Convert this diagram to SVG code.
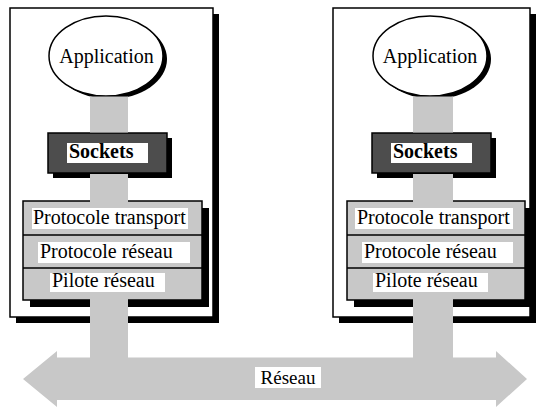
<svg xmlns="http://www.w3.org/2000/svg" width="538" height="409" viewBox="0 0 538 409">
<style>
.shadow{fill:#000}
.frame{fill:#fff;stroke:#000;stroke-width:1.5}
.app{fill:#fff;stroke:#000;stroke-width:1.5}
.sock{fill:#4d4d4d;stroke:#000;stroke-width:1.5}
.stack{fill:#c8c8c8;stroke:#000;stroke-width:1.5}
.div{stroke:#000;stroke-width:1.5}
.bar{fill:#c8c8c8}
.lbl{fill:#fff}
.t{font-family:"Liberation Serif","Times New Roman",serif;font-size:20px;fill:#000}
.b{font-weight:bold}
</style>
<g id="host-left">
  <rect class="shadow" x="16" y="14" width="203" height="309"/>
  <rect class="frame" x="10" y="8" width="203" height="309"/>
</g>
<g id="host-right">
  <rect class="shadow" x="339" y="14" width="197" height="309"/>
  <rect class="frame" x="333" y="8" width="197" height="309"/>
</g>
<g id="app-left">
  <ellipse class="shadow" cx="110" cy="59" rx="57" ry="40"/>
  <ellipse class="app" cx="106" cy="56" rx="57" ry="40"/>
  <text class="t" x="106.5" y="63" text-anchor="middle">Application</text>
</g>
<g id="app-right">
  <ellipse class="shadow" cx="434" cy="59" rx="57" ry="40"/>
  <ellipse class="app" cx="430" cy="56" rx="57" ry="40"/>
  <text class="t" x="430" y="63" text-anchor="middle">Application</text>
</g>
<g id="sockets-left">
  <rect class="shadow" x="53" y="138" width="119" height="40"/>
  <rect class="sock" x="48" y="133" width="119" height="40"/>
  <rect class="lbl" x="67" y="143" width="81" height="20"/>
  <text class="t b" x="69" y="158">Sockets</text>
</g>
<g id="sockets-right">
  <rect class="shadow" x="377" y="138" width="119" height="40"/>
  <rect class="sock" x="372" y="133" width="119" height="40"/>
  <rect class="lbl" x="391" y="143" width="81" height="20"/>
  <text class="t b" x="393" y="158">Sockets</text>
</g>
<g id="stack-left">
  <rect class="shadow" x="30" y="208" width="179" height="99"/>
  <rect class="stack" x="23" y="201" width="179" height="99"/>
  <line class="div" x1="23" y1="235" x2="202" y2="235"/>
  <line class="div" x1="23" y1="268" x2="202" y2="268"/>
</g>
<g id="stack-right">
  <rect class="shadow" x="354" y="208" width="178" height="99"/>
  <rect class="stack" x="347" y="201" width="178" height="99"/>
  <line class="div" x1="347" y1="235" x2="525" y2="235"/>
  <line class="div" x1="347" y1="268" x2="525" y2="268"/>
</g>
<g id="connectors">
  <rect class="bar" x="90" y="96.5" width="38" height="36"/>
  <rect class="bar" x="90" y="174" width="38" height="28.5"/>
  <rect class="bar" x="90" y="299" width="38" height="62"/>
  <rect class="bar" x="413" y="96.5" width="40" height="36"/>
  <rect class="bar" x="413" y="174" width="40" height="28.5"/>
  <rect class="bar" x="413" y="299" width="40" height="62"/>
  <polygon class="bar" points="23,379 57,351 57,357.5 496,357.5 496,351 527,379 496,407 496,400 57,400 57,407"/>
</g>
<g id="layer-labels-left">
  <rect class="lbl" x="32" y="208" width="156" height="21"/>
  <text class="t" x="33" y="224">Protocole transport</text>
  <rect class="lbl" x="38" y="242" width="152" height="21"/>
  <text class="t" x="40" y="258">Protocole réseau</text>
  <rect class="lbl" x="50" y="273" width="115" height="19"/>
  <text class="t" x="52" y="287">Pilote réseau</text>
</g>
<g id="layer-labels-right">
  <rect class="lbl" x="355" y="208" width="158" height="21"/>
  <text class="t" x="357" y="224">Protocole transport</text>
  <rect class="lbl" x="362" y="242" width="151" height="21"/>
  <text class="t" x="364" y="258">Protocole réseau</text>
  <rect class="lbl" x="373" y="273" width="115" height="19"/>
  <text class="t" x="375" y="287">Pilote réseau</text>
</g>
<g id="network">
  <rect class="lbl" x="255" y="367" width="66" height="21"/>
  <text class="t" x="288" y="384" text-anchor="middle" style="font-size:19px">Réseau</text>
</g>
</svg>
